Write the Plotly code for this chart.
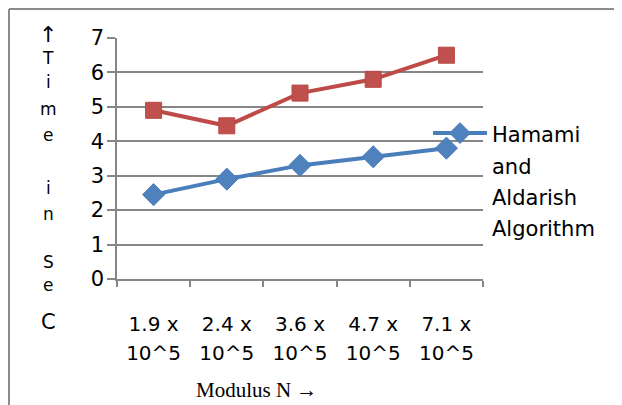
import plotly.graph_objects as go

categories = ["1.9 x", "2.4 x", "3.6 x", "4.7 x", "7.1 x"]
exponent = "10^5"
hamami = [2.45, 2.9, 3.3, 3.55, 3.8]
other = [4.9, 4.45, 5.4, 5.8, 6.5]
legend_words = ["Hamami", "and", "Aldarish", "Algorithm"]
ytitle_chars = ["↑", "T", "i", "m", "e", "i", "n", "S", "e", "C"]
ytitle_rows = [34, 58, 82, 109, 135, 188, 214, 262, 285, 322]

OFF = 8  # page body margin
W, H = 622 - OFF, 405 - OFF
L, R, T, B = 117 - OFF, 483 - OFF, 38 - OFF, 279 - OFF

tick_text = [f"<span style='font-size:20px'>{c}</span><br><span style='font-size:20px'>{exponent}</span>"
             for c in categories]
legend_name = "<br>".join(f"<span style='font-size:21px'>{w}</span>" for w in legend_words)

fig = go.Figure()
fig.add_trace(go.Scatter(
    x=categories, y=other, mode="lines+markers", showlegend=False,
    line=dict(color="#BE4B48", width=4),
    marker=dict(symbol="square", size=16, color="#C0504D", line=dict(color="#B84946", width=1)),
))
fig.add_trace(go.Scatter(
    x=categories, y=hamami, mode="lines+markers", name=legend_name,
    line=dict(color="#4A7EBB", width=4),
    marker=dict(symbol="diamond", size=17, color="#4F81BD", line=dict(color="#4A7EBB", width=1)),
))

font = "'DejaVu Sans', sans-serif"
fig.update_layout(
    width=W, height=H,
    margin=dict(l=L, r=W - R, t=T, b=H - B, pad=0),
    paper_bgcolor="white", plot_bgcolor="white",
    font=dict(family=font, size=20, color="black"),
    showlegend=True,
    legend=dict(x=(428 - 117) / (483 - 117), y=(279 - 111) / (279 - 38), xanchor="left", yanchor="top",
                font=dict(size=24, family=font), itemwidth=54, valign="top",
                bgcolor="rgba(0,0,0,0)", tracegroupgap=0),
    xaxis=dict(type="category", range=[-0.5, 4.5], showgrid=False, tickson="boundaries",
               ticks="outside", ticklen=6, tickcolor="#868686", tickwidth=1.5,
               showline=True, linecolor="#868686", linewidth=1.5,
               tickmode="array", tickvals=categories, ticktext=tick_text,
               ticklabelstandoff=24,
               tickfont=dict(size=22, family=font), fixedrange=True),
    yaxis=dict(range=[0, 7], dtick=1, showgrid=True, gridcolor="#868686", gridwidth=1.5,
               ticks="outside", ticklen=8, tickcolor="#868686", tickwidth=1.5,
               showline=True, linecolor="#868686", linewidth=1.5, zeroline=False,
               ticklabelstandoff=-1,
               tickfont=dict(size=21, family=font), fixedrange=True),
)

def px_x(x):  # page pixel -> paper
    return (x - OFF - L) / (R - L)

def px_y(y):
    return (B - (y - OFF)) / (B - T)

for ch, row in zip(ytitle_chars, ytitle_rows):
    size = 21 if ch == "C" else (22 if ch == "↑" else 17)
    fig.add_annotation(text=ch, xref="paper", yref="paper", x=px_x(48), y=px_y(row),
                       showarrow=False, xanchor="center", yanchor="middle",
                       font=dict(size=size, family=font, color="black"))

fig.add_annotation(text="Modulus N →", xref="paper", yref="paper", x=px_x(256), y=px_y(390),
                   showarrow=False, xanchor="center", yanchor="middle",
                   font=dict(size=21, family="'Liberation Serif', 'Times New Roman', serif", color="black"))

# outer frame (top and left edges visible)
fig.add_shape(type="line", xref="paper", yref="paper", x0=px_x(9), x1=px_x(640), y0=px_y(9), y1=px_y(9),
              line=dict(color="#8C8C8C", width=2))
fig.add_shape(type="line", xref="paper", yref="paper", x0=px_x(9), x1=px_x(9), y0=px_y(9), y1=px_y(420),
              line=dict(color="#8C8C8C", width=2))

fig.write_html("out.html")
